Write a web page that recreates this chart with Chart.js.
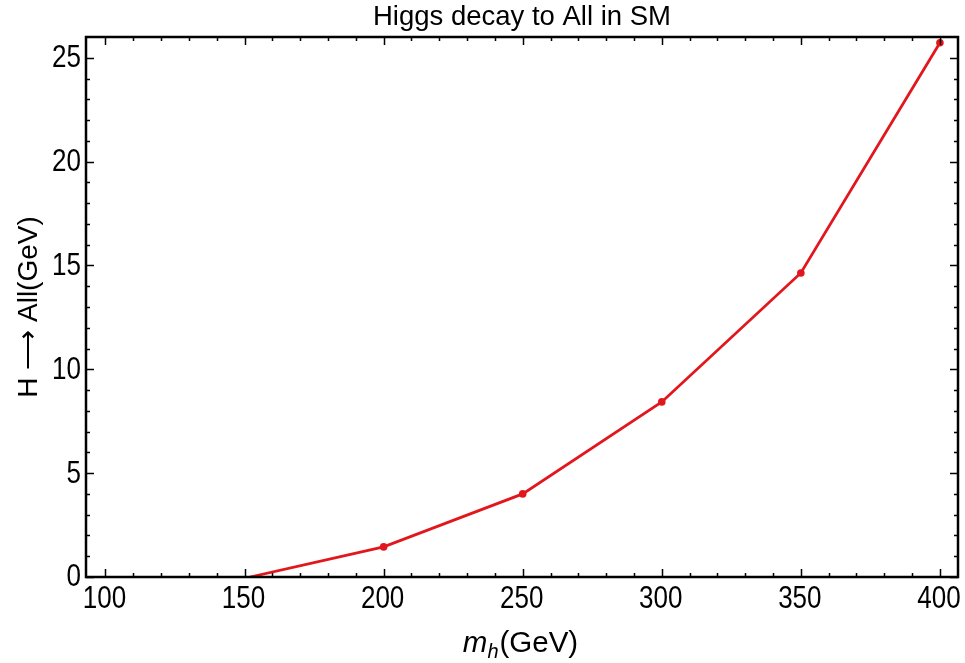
<!DOCTYPE html>
<html>
<head>
<meta charset="utf-8">
<script src="https://cdn.jsdelivr.net/npm/chart.js@4.4.1/dist/chart.umd.min.js"></script>
<style>
  html, body { margin: 0; padding: 0; background: #fff; }
  #wrap { width: 965px; height: 663px; }
</style>
</head>
<body>
<div id="wrap"><canvas id="chart"></canvas></div>
<script>
// values
var massValues = [152, 200, 250, 300, 350, 400];
var widthValues = [0, 1.45, 4.0, 8.43, 14.64, 25.72];
var xTickLabels = [100, 150, 200, 250, 300, 350, 400];
var yTickLabels = [0, 5, 10, 15, 20, 25];
var xMinorTicks = [];
for (var i = 100; i <= 400; i += 10) xMinorTicks.push(i);
var yMinorTicks = [];
for (var j = 0; j <= 25; j += 1) yMinorTicks.push(j);

var chartTitle = 'Higgs decay to All in SM';
var yTitle = 'H \u27F6 All(GeV)';

var FONT = "'Liberation Sans', Arial, sans-serif";
var lineRed = '#e2171d';

var points = massValues.map(function (m, k) { return { x: m, y: widthValues[k] }; });

// tick numbers come out a bit taller than wide in the original
function tallText(ctx, str, x, y, sy) {
  ctx.save();
  ctx.translate(x, y);
  ctx.scale(1, sy);
  ctx.fillText(str, 0, 0);
  ctx.restore();
}

// frame with inward ticks, tick numbers, title and axis titles
var framePlugin = {
  id: 'frame',
  afterDraw: function (chart) {
    var ctx = chart.ctx, a = chart.chartArea;
    var xs = chart.scales.x, ys = chart.scales.y;
    ctx.save();
    ctx.strokeStyle = '#000';
    ctx.lineWidth = 1.5;
    ctx.beginPath();
    xMinorTicks.forEach(function (v) {
      var len = xTickLabels.indexOf(v) >= 0 ? 8 : 4;
      var px = Math.round(xs.getPixelForValue(v)) + 0.5;
      ctx.moveTo(px, a.bottom); ctx.lineTo(px, a.bottom - len);
      ctx.moveTo(px, a.top); ctx.lineTo(px, a.top + len);
    });
    yMinorTicks.forEach(function (v) {
      var len = yTickLabels.indexOf(v) >= 0 ? 8 : 4;
      var py = Math.round(ys.getPixelForValue(v)) + 0.5;
      ctx.moveTo(a.left, py); ctx.lineTo(a.left + len, py);
      ctx.moveTo(a.right, py); ctx.lineTo(a.right - len, py);
    });
    ctx.stroke();

    ctx.lineWidth = 2.5;
    ctx.strokeRect(a.left, a.top, a.right - a.left, a.bottom - a.top);

    ctx.fillStyle = '#000';

    // tick numbers
    ctx.font = '26px ' + FONT;
    ctx.textBaseline = 'alphabetic';
    ctx.textAlign = 'center';
    xTickLabels.forEach(function (v) {
      tallText(ctx, String(v), xs.getPixelForValue(v) - 1, 608, 1.18);
    });
    ctx.textAlign = 'right';
    ctx.textBaseline = 'middle';
    yTickLabels.forEach(function (v) {
      tallText(ctx, String(v), a.left - 5, ys.getPixelForValue(v) + 1, 1.18);
    });

    // title
    var cx = (a.left + a.right) / 2;
    ctx.font = '27.5px ' + FONT;
    ctx.textAlign = 'center';
    ctx.textBaseline = 'alphabetic';
    ctx.fillText(chartTitle, cx, 25);

    // x title: m_h(GeV)
    var big = '29.5px ' + FONT, bigIt = 'italic 29.5px ' + FONT, small = 'italic 20px ' + FONT;
    ctx.textAlign = 'left';
    ctx.font = bigIt; var wM = ctx.measureText('m').width;
    ctx.font = small; var wH = ctx.measureText('h').width;
    ctx.font = big; var wG = ctx.measureText('(GeV)').width;
    var x0 = cx - 2 - (wM + wH + wG) / 2, base = 652;
    ctx.font = bigIt; ctx.fillText('m', x0, base);
    ctx.font = small; ctx.fillText('h', x0 + wM, base + 6);
    ctx.font = big; ctx.fillText('(GeV)', x0 + wM + wH + 1, base);

    // y title
    ctx.translate(29, (a.top + a.bottom) / 2);
    ctx.rotate(-Math.PI / 2);
    ctx.textAlign = 'center';
    ctx.textBaseline = 'middle';
    ctx.font = '28px ' + FONT;
    ctx.fillText(yTitle, 0, 0);
    ctx.restore();
  }
};

var bgPlugin = {
  id: 'bg',
  beforeDraw: function (chart) {
    var ctx = chart.ctx;
    ctx.save();
    ctx.fillStyle = '#fff';
    ctx.fillRect(0, 0, chart.width, chart.height);
    ctx.restore();
  }
};

var chart = new Chart(document.getElementById('chart'), {
  type: 'line',
  data: {
    datasets: [{
      data: points,
      borderColor: lineRed,
      backgroundColor: lineRed,
      borderWidth: 2.8,
      pointRadius: function (c) { return c.raw && c.raw.y > 0 ? 3.8 : 0; },
      pointBorderWidth: 0,
      tension: 0,
      fill: false
    }]
  },
  options: {
    responsive: true,
    maintainAspectRatio: false,
    animation: false,
    layout: { padding: { top: 37, right: 7, left: 0, bottom: 0 } },
    plugins: { legend: { display: false }, tooltip: { enabled: false }, title: { display: false } },
    scales: {
      x: {
        type: 'linear',
        min: 93,
        max: 406.5,
        grid: { display: false },
        border: { display: false },
        afterBuildTicks: function (s) { s.ticks = xTickLabels.map(function (v) { return { value: v }; }); },
        afterFit: function (s) { s.height = 86; },
        ticks: { display: false }
      },
      y: {
        min: 0,
        max: 26,
        grid: { display: false },
        border: { display: false },
        afterBuildTicks: function (s) { s.ticks = yTickLabels.map(function (v) { return { value: v }; }); },
        afterFit: function (s) { s.width = 86; },
        ticks: { display: false }
      }
    }
  },
  plugins: [bgPlugin, framePlugin]
});
</script>
</body>
</html>
